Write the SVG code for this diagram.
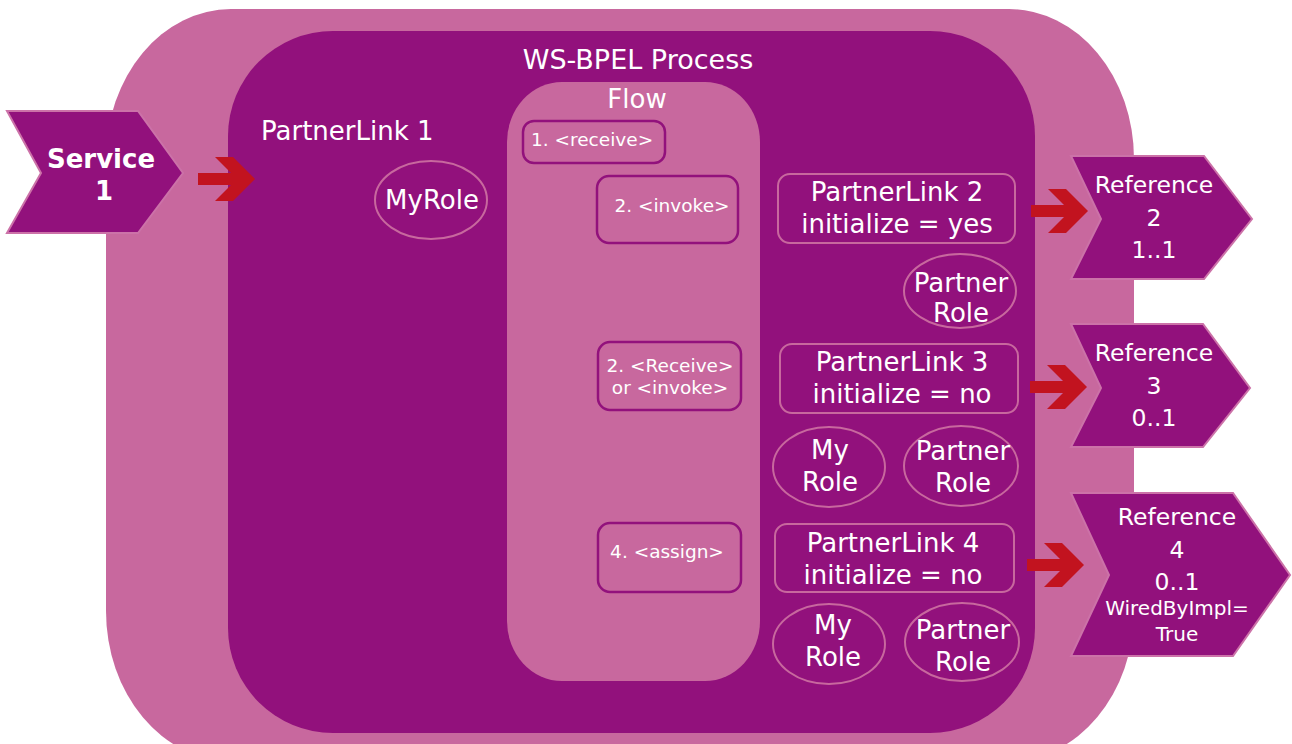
<svg xmlns="http://www.w3.org/2000/svg" width="1292" height="744" viewBox="0 0 1292 744">
  <style>
    .pink { fill: #C8689E; }
    .dark { fill: #92117C; }
    .t { font-family: "DejaVu Sans", Verdana, sans-serif; fill: #FFFFFF; text-anchor: middle; }
    .big { font-size: 26px; }
    .ref { font-size: 23.5px; }
    .act { font-size: 18.5px; }
    .chev { fill: #92117C; stroke: #CC72A8; stroke-width: 2; stroke-linejoin: miter; }
    .plink { fill: none; stroke: #C8689E; stroke-width: 2; }
    .role { fill: none; stroke: #C8689E; stroke-width: 2; }
    .activity { fill: none; stroke: #92117C; stroke-width: 2.5; }
    .arrow { fill: #C2131F; }
  </style>
  <defs>
    <!-- block arrow, tip at origin -->
    <path id="blockArrow" d="M-57,-6 H-24 L-40,-22 H-22 L0,0 L-22,22 H-40 L-24,6 H-57 Z"/>
  </defs>

  <!-- composite component -->
  <g id="component">
    <rect class="pink" x="106" y="9" width="1028" height="752" rx="125" ry="150"/>
  </g>

  <!-- process container -->
  <g id="process">
    <rect class="dark" x="228" y="31" width="807" height="702" rx="105" ry="105"/>
    <text class="t" x="638" y="69" font-size="27">WS-BPEL Process</text>
  </g>

  <!-- flow container -->
  <g id="flow">
    <rect class="pink" x="507" y="82" width="253" height="599" rx="55" ry="60"/>
    <text class="t" x="637" y="108" font-size="26">Flow</text>
  </g>

  <!-- activities in the flow -->
  <g id="act-receive">
    <rect class="activity" x="523" y="121" width="142" height="42" rx="11"/>
    <text class="t act" x="531" y="146" style="text-anchor:start">1. &lt;receive&gt;</text>
  </g>
  <g id="act-invoke">
    <rect class="activity" x="597" y="176" width="141" height="67" rx="12"/>
    <text class="t act" x="672" y="212">2. &lt;invoke&gt;</text>
  </g>
  <g id="act-receive-or-invoke">
    <rect class="activity" x="598" y="342" width="143" height="68" rx="12"/>
    <text class="t act" x="670" y="372">2. &lt;Receive&gt;</text>
    <text class="t act" x="670" y="394">or &lt;invoke&gt;</text>
  </g>
  <g id="act-assign">
    <rect class="activity" x="598" y="523" width="143" height="69" rx="12"/>
    <text class="t act" x="667" y="558">4. &lt;assign&gt;</text>
  </g>

  <!-- partner link 1 -->
  <g id="partnerlink-1">
    <text class="t big" x="261" y="140" style="text-anchor:start">PartnerLink 1</text>
    <ellipse class="role" cx="431" cy="200" rx="56" ry="39"/>
    <text class="t big" x="432" y="209">MyRole</text>
  </g>

  <!-- partner link 2 -->
  <g id="partnerlink-2">
    <rect class="plink" x="778" y="174" width="237" height="69" rx="12"/>
    <text class="t big" x="897" y="201">PartnerLink 2</text>
    <text class="t big" x="897" y="233">initialize = yes</text>
    <ellipse class="role" cx="960" cy="291" rx="56" ry="37"/>
    <text class="t big" x="961" y="292">Partner</text>
    <text class="t big" x="961" y="322">Role</text>
  </g>

  <!-- partner link 3 -->
  <g id="partnerlink-3">
    <rect class="plink" x="780" y="344" width="238" height="69" rx="12"/>
    <text class="t big" x="902" y="371">PartnerLink 3</text>
    <text class="t big" x="902" y="403">initialize = no</text>
    <ellipse class="role" cx="829" cy="467" rx="56" ry="40"/>
    <text class="t big" x="830" y="459">My</text>
    <text class="t big" x="830" y="491">Role</text>
    <ellipse class="role" cx="961" cy="466" rx="57" ry="40"/>
    <text class="t big" x="963" y="460">Partner</text>
    <text class="t big" x="963" y="492">Role</text>
  </g>

  <!-- partner link 4 -->
  <g id="partnerlink-4">
    <rect class="plink" x="775" y="524" width="239" height="68" rx="12"/>
    <text class="t big" x="893" y="552">PartnerLink 4</text>
    <text class="t big" x="893" y="584">initialize = no</text>
    <ellipse class="role" cx="829" cy="644" rx="56" ry="40"/>
    <text class="t big" x="833" y="634">My</text>
    <text class="t big" x="833" y="666">Role</text>
    <ellipse class="role" cx="962" cy="642" rx="57" ry="39"/>
    <text class="t big" x="963" y="639">Partner</text>
    <text class="t big" x="963" y="671">Role</text>
  </g>

  <!-- service -->
  <g id="service-1">
    <polygon class="chev" points="7,111 138,111 183,173 138,233 7,233 41,173"/>
    <text class="t" x="101" y="168" font-size="26" font-weight="bold">Service</text>
    <text class="t" x="104" y="200" font-size="26" font-weight="bold">1</text>
  </g>

  <!-- references -->
  <g id="reference-2">
    <polygon class="chev" points="1071,156 1204,156 1252,219 1204,279 1071,279 1101,219"/>
    <text class="t ref" x="1154" y="193">Reference</text>
    <text class="t ref" x="1154" y="226">2</text>
    <text class="t ref" x="1154" y="258">1..1</text>
  </g>
  <g id="reference-3">
    <polygon class="chev" points="1071,324 1203,324 1250,388 1203,447 1071,447 1101,388"/>
    <text class="t ref" x="1154" y="361">Reference</text>
    <text class="t ref" x="1154" y="394">3</text>
    <text class="t ref" x="1154" y="426">0..1</text>
  </g>
  <g id="reference-4">
    <polygon class="chev" points="1071,493 1233,493 1290,575 1233,656 1071,656 1109,575"/>
    <text class="t ref" x="1177" y="525">Reference</text>
    <text class="t ref" x="1177" y="558">4</text>
    <text class="t ref" x="1177" y="590">0..1</text>
    <text class="t" x="1177" y="615" font-size="20">WiredByImpl=</text>
    <text class="t" x="1177" y="641" font-size="20">True</text>
  </g>

  <!-- wiring arrows -->
  <g id="connectors">
    <use href="#blockArrow" class="arrow" transform="translate(255,179)"/>
    <use href="#blockArrow" class="arrow" transform="translate(1088,211)"/>
    <use href="#blockArrow" class="arrow" transform="translate(1087,387)"/>
    <use href="#blockArrow" class="arrow" transform="translate(1084,565)"/>
  </g>
</svg>
